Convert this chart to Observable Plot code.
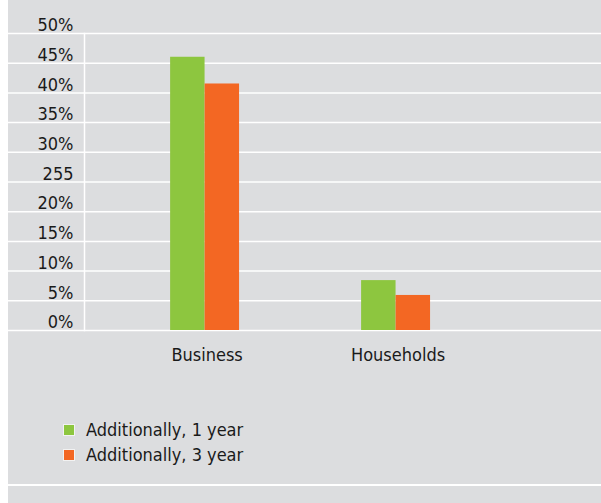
<!DOCTYPE html>
<html>
<head>
<meta charset="utf-8">
<script src="https://cdn.jsdelivr.net/npm/d3@7"></script>
<script src="https://cdn.jsdelivr.net/npm/@observablehq/plot@0.6"></script>
<style>
  html, body { margin: 0; padding: 0; background: #ffffff; }
  #panel {
    position: relative;
    margin-left: 8px;
    width: 593px;
    height: 503px;
    background: #dcdddf;
    overflow: hidden;
    font-family: "DejaVu Sans Condensed", "DejaVu Sans", sans-serif;
    font-stretch: condensed;
    color: #1a1a1a;
  }
  #legend {
    position: absolute;
    left: 55px;
    top: 417px;
    font-size: 18px;
    line-height: 25px;
  }
  .item { display: flex; align-items: center; height: 25px; }
  .sw { width: 10px; height: 10px; border: 1px solid #f2f2f2; margin-right: 11px; }
  #bottomline {
    position: absolute;
    left: 0; right: 0;
    top: 484px;
    height: 2px;
    background: #ffffff;
  }
</style>
</head>
<body>
<div id="panel">
  <div id="chart"></div>
  <div id="legend"></div>
  <div id="bottomline"></div>
</div>
<script>
// ---- data ----
const categories = ["Business", "Households"];
const seriesNames = ["Additionally, 1 year", "Additionally, 3 year"];
const oneYear = [46, 8.4];
const threeYear = [41.5, 5.9];
const seriesColors = ["#8dc63f", "#f36723"];
const yTickValues = [0, 5, 10, 15, 20, 25, 30, 35, 40, 45, 50];
const yTickLabels = ["0%", "5%", "10%", "15%", "20%", "255", "30%", "35%", "40%", "45%", "50%"];

const rows1 = categories.map((c, i) => ({category: c, value: oneYear[i]}));
const rows3 = categories.map((c, i) => ({category: c, value: threeYear[i]}));

const chart = Plot.plot({
  width: 593,
  height: 390,
  marginLeft: 76,
  marginRight: 0,
  marginTop: 33,
  marginBottom: 60,
  style: {
    fontFamily: '"DejaVu Sans Condensed", "DejaVu Sans", sans-serif',
    fontStretch: "condensed",
    fontSize: "18px",
    background: "transparent",
    color: "#1a1a1a",
    overflow: "visible"
  },
  x: {domain: categories, paddingInner: 0.639, paddingOuter: 0.673, align: 0.335, round: false, label: null},
  y: {domain: [0, 50], label: null},
  marks: [
    Plot.gridY(yTickValues, {stroke: "#ffffff", strokeOpacity: 1, strokeWidth: 1.5}),
    Plot.frame({anchor: "left", stroke: "#ffffff", strokeWidth: 1.5}),
    // tick lines through the label column
    Plot.axisY(yTickValues, {
      tickSize: 76,
      stroke: "#ffffff",
      strokeWidth: 1.5,
      strokeOpacity: 1,
      tickFormat: () => "",
      label: null
    }),
    // tick labels
    Plot.axisY(yTickValues, {
      tickSize: 0,
      tickPadding: 11,
      fill: "#1a1a1a",
      dy: -8,
      tickFormat: d => yTickLabels[yTickValues.indexOf(d)],
      label: null
    }),
    Plot.barY(rows1, {x: "category", y: "value", fill: seriesColors[0], insetRight: 34.5}),
    Plot.barY(rows3, {x: "category", y: "value", fill: seriesColors[1], insetLeft: 34.5}),
    Plot.axisX({tickSize: 0, tickPadding: 18, dx: 2, fill: "#1a1a1a", label: null})
  ]
});
document.getElementById("chart").appendChild(chart);

const legend = document.getElementById("legend");
seriesNames.forEach((name, i) => {
  const item = document.createElement("div");
  item.className = "item";
  const sw = document.createElement("span");
  sw.className = "sw";
  sw.style.background = seriesColors[i];
  const label = document.createElement("span");
  label.textContent = name;
  item.appendChild(sw);
  item.appendChild(label);
  legend.appendChild(item);
});
</script>
</body>
</html>
